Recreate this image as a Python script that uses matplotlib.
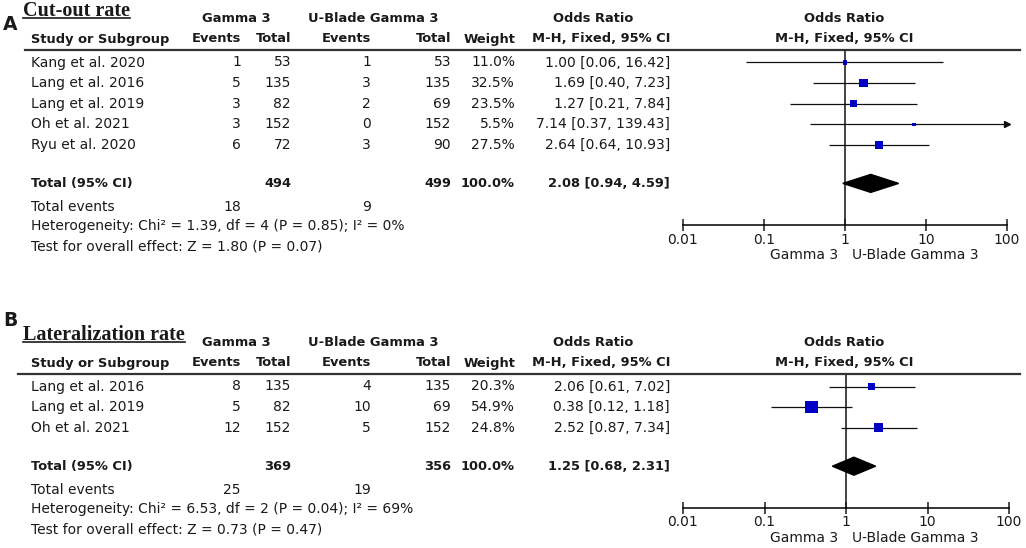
import numpy as np
import matplotlib
matplotlib.use("Agg")
import matplotlib.pyplot as plt
import matplotlib.ticker as mticker

plt.rcParams['font.family'] = ['DejaVu Sans']

# ---- panel A: cut-out rate ----
a_studies = ["Kang et al. 2020", "Lang et al. 2016", "Lang et al. 2019", "Oh et al. 2021", "Ryu et al. 2020"]
a_ev1 = [1, 5, 3, 3, 6]
a_n1 = [53, 135, 82, 152, 72]
a_ev2 = [1, 3, 2, 0, 3]
a_n2 = [53, 135, 69, 152, 90]
a_weight = [11.0, 32.5, 23.5, 5.5, 27.5]
a_or = [1.00, 1.69, 1.27, 7.14, 2.64]
a_lo = [0.06, 0.40, 0.21, 0.37, 0.64]
a_hi = [16.42, 7.23, 7.84, 139.43, 10.93]
a_total = [494, 499, 2.08, 0.94, 4.59]
a_events = [18, 9]
a_het = "Heterogeneity: Chi² = 1.39, df = 4 (P = 0.85); I² = 0%"
a_test = "Test for overall effect: Z = 1.80 (P = 0.07)"

# ---- panel B: lateralization rate ----
b_studies = ["Lang et al. 2016", "Lang et al. 2019", "Oh et al. 2021"]
b_ev1 = [8, 5, 12]
b_n1 = [135, 82, 152]
b_ev2 = [4, 10, 5]
b_n2 = [135, 69, 152]
b_weight = [20.3, 54.9, 24.8]
b_or = [2.06, 0.38, 2.52]
b_lo = [0.61, 0.12, 0.87]
b_hi = [7.02, 1.18, 7.34]
b_total = [369, 356, 1.25, 0.68, 2.31]
b_events = [25, 19]
b_het = "Heterogeneity: Chi² = 6.53, df = 2 (P = 0.04); I² = 69%"
b_test = "Test for overall effect: Z = 0.73 (P = 0.47)"

tick_vals = [0.01, 0.1, 1, 10, 100]
tick_labels = ["0.01", "0.1", "1", "10", "100"]
group1, group2 = "Gamma 3", "U-Blade Gamma 3"

W, H = 1026, 548
fig = plt.figure(figsize=(W / 100, H / 100), dpi=100)
TXT = '#1a1a1a'
FS = 10          # regular text
FSB = 9.4        # bold text


def txt(x, y, s, ha='left', bold=False, size=None, **kw):
    if size is None:
        size = FSB if bold else FS
    return fig.text(x / W, 1 - y / H, s, ha=ha, va='center', fontsize=size,
                    fontweight='bold' if bold else 'normal', color=TXT, **kw)


def panel(letter, letter_xy, title, line_y, line_x0, studies, ev1, n1, ev2, n2,
          weight, orr, lo, hi, total, events, het, test, sq_k, plot_x1):
    # column right edges
    c_ev1, c_n1, c_ev2, c_n2, c_w, c_or = 241, 291, 371, 451, 515, 670
    fx0, fcen = 683, 844

    txt(letter_xy[0], letter_xy[1], letter, bold=True, size=13.5)
    t = fig.text(23 / W, 1 - (line_y - 34.5) / H, title, ha='left', va='baseline',
                 fontsize=14.5, fontweight='bold', family='Liberation Serif', color=TXT)
    fig.canvas.draw()
    bb = t.get_window_extent(fig.canvas.get_renderer())
    uy = H - (line_y - 32)
    fig.add_artist(plt.Line2D([bb.x0 / W, bb.x1 / W], [uy / H, uy / H], color=TXT, lw=1.2))

    # headers
    hy1, hy2 = line_y - 31, line_y - 11
    txt(236, hy1, group1, ha='center', bold=True)
    txt(373, hy1, group2, ha='center', bold=True)
    txt(593, hy1, "Odds Ratio", ha='center', bold=True)
    txt(fcen, hy1, "Odds Ratio", ha='center', bold=True)
    txt(31, hy2, "Study or Subgroup", bold=True)
    txt(c_ev1, hy2, "Events", ha='right', bold=True)
    txt(c_n1, hy2, "Total", ha='right', bold=True)
    txt(c_ev2, hy2, "Events", ha='right', bold=True)
    txt(c_n2, hy2, "Total", ha='right', bold=True)
    txt(c_w, hy2, "Weight", ha='right', bold=True)
    txt(c_or, hy2, "M-H, Fixed, 95% CI", ha='right', bold=True)
    txt(fcen, hy2, "M-H, Fixed, 95% CI", ha='center', bold=True)
    fig.add_artist(plt.Line2D([line_x0 / W, 1020 / W], [1 - line_y / H] * 2, color='#333333', lw=1.6))

    rows = [line_y + 12.5 + 20.6 * i for i in range(len(studies))]
    for i, y in enumerate(rows):
        txt(31, y, studies[i])
        txt(c_ev1, y, str(ev1[i]), ha='right')
        txt(c_n1, y, str(n1[i]), ha='right')
        txt(c_ev2, y, str(ev2[i]), ha='right')
        txt(c_n2, y, str(n2[i]), ha='right')
        txt(c_w, y, f"{weight[i]:.1f}%", ha='right')
        txt(c_or, y, f"{orr[i]:.2f} [{lo[i]:.2f}, {hi[i]:.2f}]", ha='right')

    ty = rows[-1] + 38.5
    txt(31, ty, "Total (95% CI)", bold=True)
    txt(c_n1, ty, str(total[0]), ha='right', bold=True)
    txt(c_n2, ty, str(total[1]), ha='right', bold=True)
    txt(c_w, ty, "100.0%", ha='right', bold=True)
    txt(c_or, ty, f"{total[2]:.2f} [{total[3]:.2f}, {total[4]:.2f}]", ha='right', bold=True)
    txt(31, ty + 23.5, "Total events")
    txt(c_ev1, ty + 23.5, str(events[0]), ha='right')
    txt(c_ev2, ty + 23.5, str(events[1]), ha='right')
    txt(31, ty + 43, het)
    txt(31, ty + 63, test)

    # forest plot
    axis_y = ty + 41.5
    ax = fig.add_axes([fx0 / W, 1 - axis_y / H, (plot_x1 - fx0) / W, (axis_y - line_y) / H])
    ax.set_xscale('log')
    ax.set_xlim(0.01, 100)
    ax.set_ylim(axis_y, line_y)
    ax.patch.set_visible(False)
    for s in ['top', 'left', 'right']:
        ax.spines[s].set_visible(False)
    ax.spines['bottom'].set_linewidth(1.1)
    ax.set_xticks(tick_vals)
    ax.set_xticklabels(tick_labels)
    ax.xaxis.set_minor_locator(mticker.NullLocator())
    ax.set_yticks([])
    ax.tick_params(axis='x', direction='inout', length=9, width=1.1, labelsize=FS, pad=1, colors=TXT)
    ax.axvline(1, color='#111111', lw=1.1, zorder=1)

    hi_c = [min(h, 100) for h in hi]
    ax.hlines(rows, lo, hi_c, color='#111111', lw=0.9, zorder=2)
    for h, y in zip(hi, rows):
        if h > 100:
            ax.plot([100], [y], marker='>', color='#111111', ms=5, clip_on=False, zorder=3)
    sizes = [(sq_k * np.sqrt(w) * 0.72) ** 2 for w in weight]
    ax.scatter(orr, rows, marker='s', s=sizes, color='#0000c4', linewidths=0, zorder=4)

    ax.fill([total[3], total[2], total[4], total[2]], [ty, ty - 9, ty, ty + 9],
            color='black', zorder=4)

    ly = axis_y + 30
    txt(838, ly, group1, ha='right')
    txt(852, ly, group2, ha='left')


panel("A", (3, 25), "Cut-out rate", 50, 25, a_studies, a_ev1, a_n1, a_ev2, a_n2,
      a_weight, a_or, a_lo, a_hi, a_total, a_events, a_het, a_test, 1.45, 1007)
panel("B", (3, 321), "Lateralization rate", 374, 18, b_studies, b_ev1, b_n1, b_ev2, b_n2,
      b_weight, b_or, b_lo, b_hi, b_total, b_events, b_het, b_test, 1.7, 1009)

fig.savefig("out.png", dpi=100)
